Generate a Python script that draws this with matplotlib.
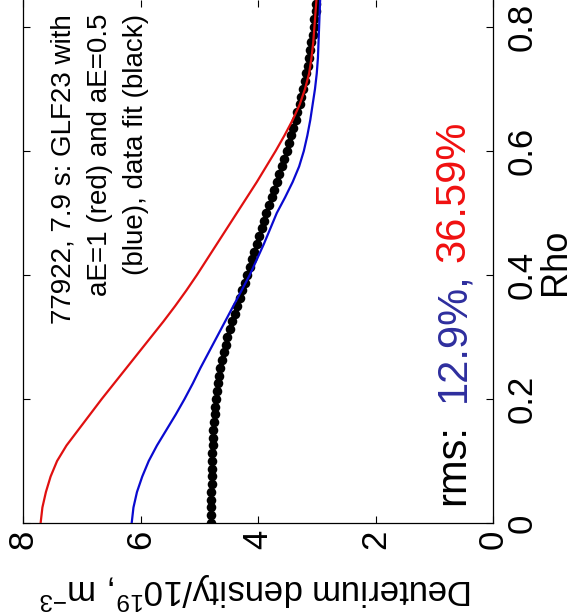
import matplotlib
matplotlib.use('Agg')
import matplotlib.pyplot as plt
import numpy as np

plt.rcParams['font.family'] = ['Liberation Sans', 'DejaVu Sans']
plt.rcParams['mathtext.fontset'] = 'custom'
plt.rcParams['mathtext.rm'] = 'Liberation Sans'
plt.rcParams['mathtext.it'] = 'Liberation Sans:italic'

# ---- data ----
# simulated profiles (GLF23), sampled every 0.025 in rho
rho_sim = [0.000, 0.025, 0.050, 0.075, 0.100, 0.125, 0.150, 0.175, 0.200, 0.225,
           0.250, 0.275, 0.300, 0.325, 0.350, 0.375, 0.400, 0.425, 0.450, 0.475,
           0.500, 0.525, 0.550, 0.575, 0.600, 0.625, 0.650, 0.675, 0.700, 0.725,
           0.750, 0.775, 0.800, 0.825, 0.850]
dens_red = [7.70, 7.67, 7.61, 7.53, 7.42, 7.26, 7.06, 6.86, 6.66, 6.45,
            6.24, 6.03, 5.82, 5.61, 5.41, 5.22, 5.04, 4.87, 4.70, 4.53,
            4.36, 4.19, 4.02, 3.86, 3.70, 3.55, 3.41, 3.29, 3.20, 3.13,
            3.09, 3.06, 3.04, 3.02, 3.00]
dens_blue = [6.15, 6.12, 6.06, 5.97, 5.86, 5.72, 5.56, 5.40, 5.25, 5.11,
             4.98, 4.84, 4.70, 4.56, 4.42, 4.28, 4.14, 4.02, 3.90, 3.79,
             3.68, 3.54, 3.41, 3.30, 3.22, 3.16, 3.11, 3.07, 3.03, 3.00,
             2.98, 2.97, 2.96, 2.95, 2.94]

# data fit (black dots), every 0.0125 in rho
rho_fit = np.round(np.arange(69) * 0.0125, 4)
dens_fit = [4.80, 4.80, 4.80, 4.80, 4.80, 4.79, 4.79, 4.79, 4.78, 4.78,
            4.77, 4.77, 4.76, 4.75, 4.74, 4.73, 4.72, 4.70, 4.68, 4.66,
            4.64, 4.61, 4.58, 4.55, 4.52, 4.48, 4.44, 4.40, 4.36, 4.31,
            4.27, 4.22, 4.18, 4.14, 4.10, 4.06, 4.02, 3.98, 3.94, 3.90,
            3.86, 3.82, 3.77, 3.73, 3.68, 3.64, 3.59, 3.55, 3.50, 3.47,
            3.43, 3.40, 3.36, 3.33, 3.29, 3.26, 3.23, 3.20, 3.18, 3.15,
            3.13, 3.11, 3.09, 3.07, 3.05, 3.04, 3.02, 3.01, 3.00]

dens_ticks = [0, 2, 4, 6, 8]
dens_labels = ['0', '2', '4', '6', '8']
rho_ticks = [0, 0.2, 0.4, 0.6, 0.8]
rho_labels = ['0', '0.2', '0.4', '0.6', '0.8']

title_text = "77922, 7.9 s: GLF23 with\naE=1 (red) and aE=0.5\n(blue), data fit (black)"
rms_parts = ["rms:", "12.9%,", "36.59%"]
rms_colors = ['black', '#2e2e9e', '#f01010']

# ---- figure ----
W, H = 574, 616
fig = plt.figure(figsize=(W / 100, H / 100), dpi=100)
ax = fig.add_axes([23 / W, (H - 523) / H, (493 - 23) / W, 523 / H])

ax.plot(dens_fit, rho_fit, 'o', color='black', ms=6.9, mew=0, zorder=2)
ax.plot(dens_red, rho_sim, color='#e01010', lw=1.6, zorder=3)
ax.plot(dens_blue, rho_sim, color='#0a0ad0', lw=1.6, zorder=3)

ax.set_xlim(8, 0)
ax.set_ylim(0, 0.8435)
ax.set_xticks(dens_ticks)
ax.set_xticklabels(dens_labels, rotation=90, fontsize=25)
ax.set_yticks(rho_ticks)
ax.set_yticklabels(rho_labels, rotation=90, va='center', fontsize=25)
ax.tick_params(axis='both', direction='in', length=5, width=0.8,
               top=True, bottom=True, left=True, right=True,
               labelleft=False, labelright=True, labeltop=False, labelbottom=True)
ax.tick_params(axis='x', pad=5)
ax.tick_params(axis='y', pad=9)
ax.spines['top'].set_visible(False)
for s in ['left', 'right', 'bottom']:
    ax.spines[s].set_linewidth(0.9)

fig.text(100 / W, 1 - 14 / H, title_text, rotation=90, ha='center', va='top',
         multialignment='right', fontsize=20, linespacing=1.5)

rms_y = [505, 402, 262]
for txt, col, yy in zip(rms_parts, rms_colors, rms_y):
    fig.text(453 / W, (H - yy) / H, txt, rotation=90, ha='center', va='bottom',
             fontsize=30, color=col)

fig.text(555 / W, (H - 262) / H, 'Rho', rotation=90, ha='center', va='center', fontsize=26)
fig.text(256 / W, 25 / H, r'Deuterium density/10$^{19}$, m$^{-3}$', rotation=180,
         ha='center', va='center', fontsize=25)

fig.savefig('out.png', dpi=100)
